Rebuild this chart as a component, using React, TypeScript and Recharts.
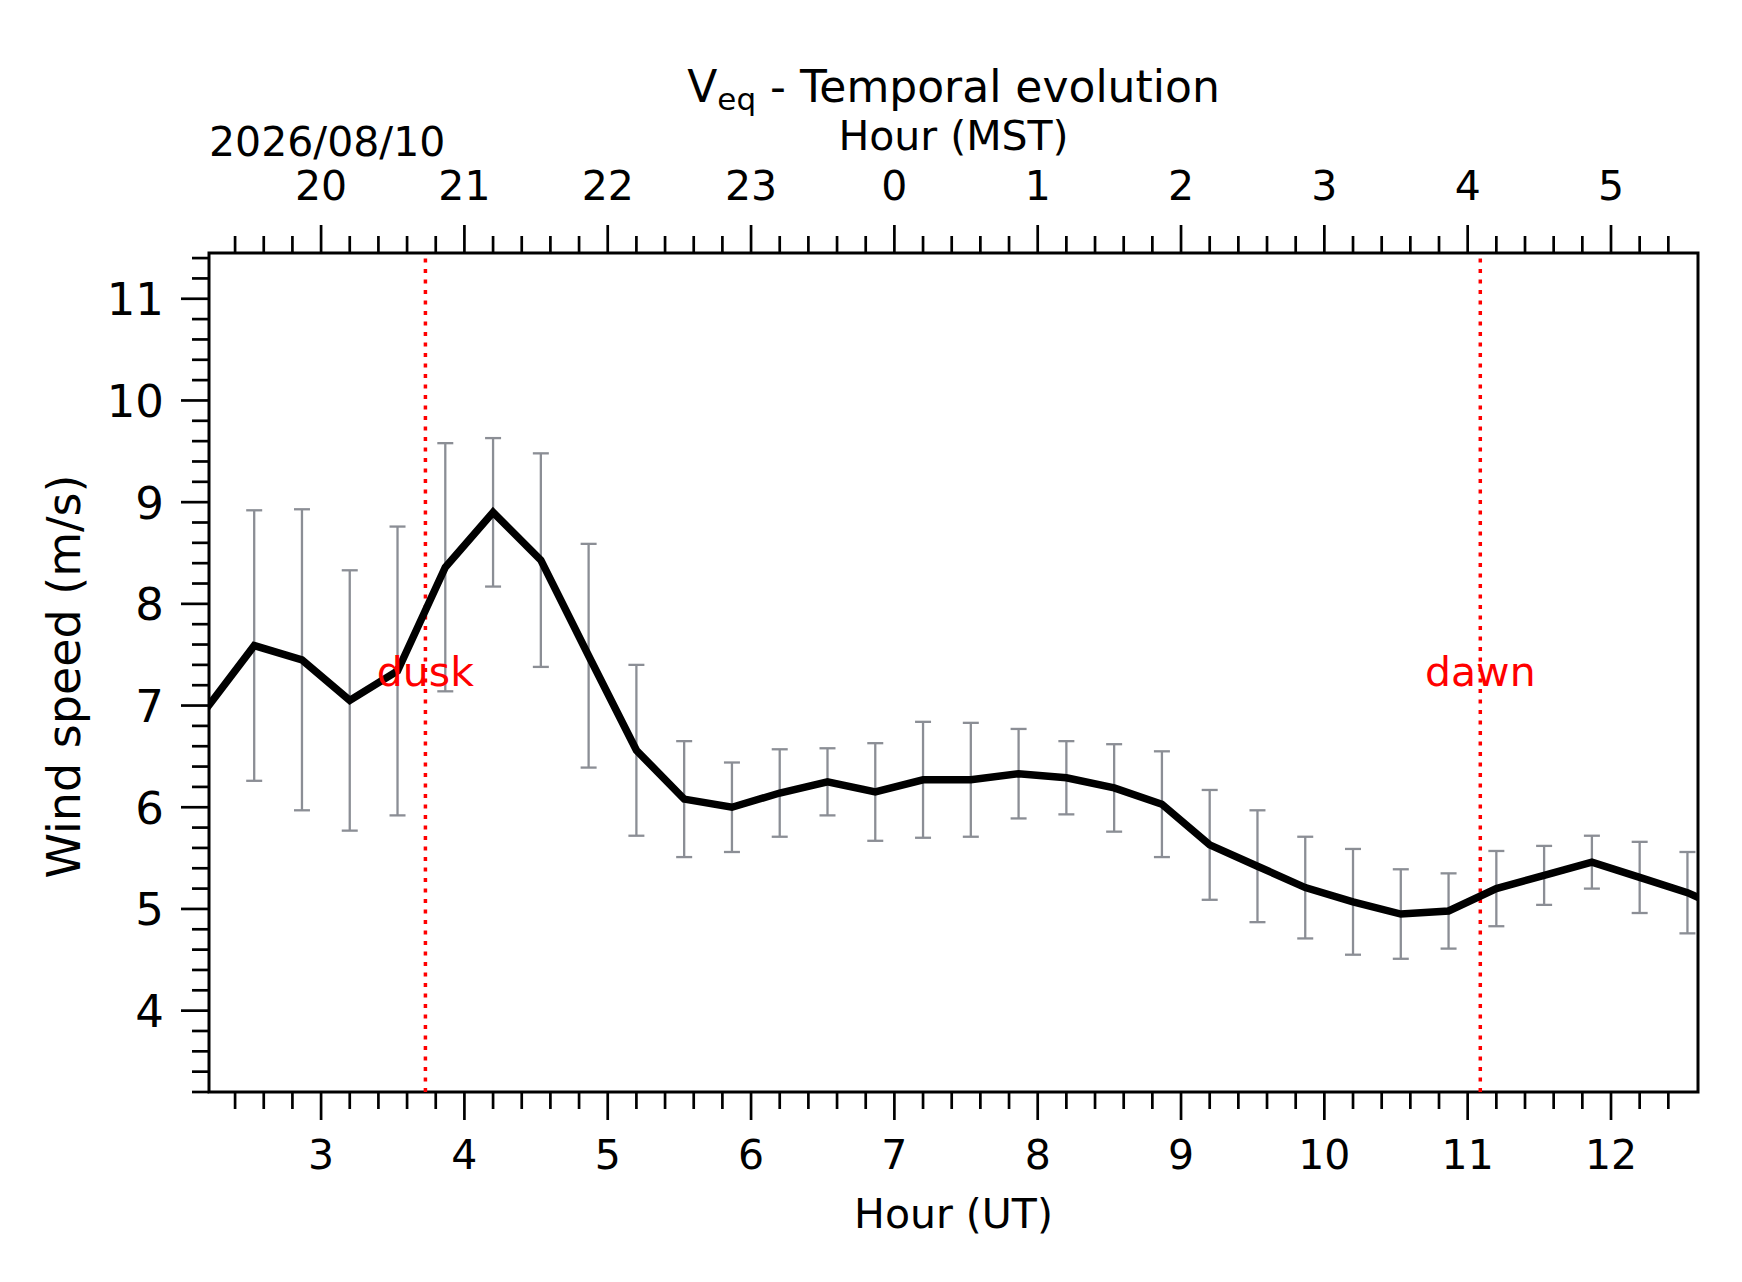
import React from "react";
import {
  LineChart,
  Line,
  XAxis,
  YAxis,
  ErrorBar,
  ReferenceLine,
  ReferenceDot,
  ReferenceArea,
  Label,
} from "recharts";

const FONT = "DejaVu Sans, Verdana, sans-serif";

// 20-minute bins (UT)
const TIMES_UT = [
  "02:12", "02:32", "02:52", "03:12", "03:32", "03:52", "04:12", "04:32", "04:52",
  "05:12", "05:32", "05:52", "06:12", "06:32", "06:52", "07:12", "07:32", "07:52",
  "08:12", "08:32", "08:52", "09:12", "09:32", "09:52", "10:12", "10:32", "10:52",
  "11:12", "11:32", "11:52", "12:12", "12:32", "12:52",
];
const SPEED = [
  6.97, 7.59, 7.45, 7.05, 7.34, 8.36, 8.9, 8.43, 7.49,
  6.56, 6.08, 6.0, 6.14, 6.25, 6.15, 6.27, 6.27, 6.33,
  6.29, 6.19, 6.03, 5.63, 5.42, 5.21, 5.07, 4.95, 4.98,
  5.2, 5.33, 5.46, 5.31, 5.16, 4.95,
];
const SPEED_ERR = [
  1.43, 1.33, 1.48, 1.28, 1.42, 1.22, 0.73, 1.05, 1.1,
  0.84, 0.57, 0.44, 0.43, 0.33, 0.48, 0.57, 0.56, 0.44,
  0.36, 0.43, 0.52, 0.54, 0.55, 0.5, 0.52, 0.44, 0.37,
  0.37, 0.29, 0.26, 0.35, 0.4, 0.4,
];

const UT_TICKS = [3, 4, 5, 6, 7, 8, 9, 10, 11, 12];
const MST_LABELS = ["20", "21", "22", "23", "0", "1", "2", "3", "4", "5"];
const SPEED_TICKS = [4, 5, 6, 7, 8, 9, 10, 11];

const X_DOMAIN: [number, number] = [2.218, 12.607];
const Y_DOMAIN: [number, number] = [3.2, 11.45];
const DUSK_UT = 3.728;
const DAWN_UT = 11.088;
const TWILIGHT_LABEL_Y = 7.34;
const DATE_LABEL = "2026/08/10";

const toHours = (hhmm: string) => {
  const [h, m] = hhmm.split(":").map(Number);
  return h + m / 60;
};

const data = TIMES_UT.map((t, i) => ({ ut: toHours(t), speed: SPEED[i], err: SPEED_ERR[i] }));
// error bars are not clipped by recharts, so only keep bins inside the x range
const barData = data.filter((d) => d.ut >= X_DOMAIN[0] && d.ut <= X_DOMAIN[1]);

// minor tick positions, every 0.2
const steps = (from: number, to: number, step: number) => {
  const out: number[] = [];
  for (let i = 0; from + i * step <= to + 1e-9; i++) out.push(+(from + i * step).toFixed(2));
  return out;
};
const X_MINOR = steps(2.4, 12.4, 0.2);
const Y_MINOR = steps(3.2, 11.4, 0.2);

const isMajor = (v: number) => Math.abs(v - Math.round(v)) < 1e-6;

const TICK_W = 2.7;
const MAJOR_LEN = 28;
const MINOR_LEN = 17;

function BottomTick({ x, y, payload }: any) {
  const v = payload.value;
  const major = isMajor(v) && UT_TICKS.includes(Math.round(v));
  return (
    <g>
      <line x1={x} x2={x} y1={y} y2={y + (major ? MAJOR_LEN : MINOR_LEN)} stroke="#000" strokeWidth={TICK_W} />
      {major && (
        <text x={x} y={y + 77} textAnchor="middle" fontSize={41} fontFamily={FONT} fill="#000">
          {Math.round(v)}
        </text>
      )}
    </g>
  );
}

function TopTick({ x, y, payload }: any) {
  const v = payload.value;
  const idx = isMajor(v) ? UT_TICKS.indexOf(Math.round(v)) : -1;
  const major = idx >= 0;
  return (
    <g>
      <line x1={x} x2={x} y1={y} y2={y - (major ? MAJOR_LEN : MINOR_LEN)} stroke="#000" strokeWidth={TICK_W} />
      {major && (
        <text x={x} y={y - 53} textAnchor="middle" fontSize={41} fontFamily={FONT} fill="#000">
          {MST_LABELS[idx]}
        </text>
      )}
    </g>
  );
}

function LeftTick({ x, y, payload }: any) {
  const v = payload.value;
  const major = isMajor(v) && SPEED_TICKS.includes(Math.round(v));
  return (
    <g>
      <line x1={x - (major ? MAJOR_LEN : MINOR_LEN)} x2={x} y1={y} y2={y} stroke="#000" strokeWidth={TICK_W} />
      {major && (
        <text x={x - 45} y={y + 16.5} textAnchor="end" fontSize={45} fontFamily={FONT} fill="#000">
          {Math.round(v)}
        </text>
      )}
    </g>
  );
}

export default function App() {
  return (
    <div style={{ position: "absolute", left: 0, top: 0, width: 1742, height: 1282, background: "#fff" }}>
      <LineChart
        width={1742}
        height={1282}
        data={data}
        margin={{ top: 0, right: 44, bottom: 0, left: 0 }}
        style={{ fontFamily: FONT }}
      >
        <XAxis
          dataKey="ut"
          type="number"
          domain={X_DOMAIN}
          allowDataOverflow
          ticks={X_MINOR}
          interval={0}
          height={190}
          tickSize={0}
          tickMargin={0}
          tickLine={false}
          axisLine={false}
          tick={(p: any) => <BottomTick {...p} />}
        >
          <Label
            content={({ viewBox }: any) => (
              <text
                x={viewBox.x + viewBox.width / 2}
                y={viewBox.y + 136}
                textAnchor="middle"
                fontSize={41}
                fontFamily={FONT}
                fill="#000"
              >
                Hour (UT)
              </text>
            )}
          />
        </XAxis>
        <XAxis
          xAxisId="mst"
          orientation="top"
          dataKey="ut"
          type="number"
          domain={X_DOMAIN}
          allowDataOverflow
          ticks={X_MINOR}
          interval={0}
          height={253}
          tickSize={0}
          tickMargin={0}
          tickLine={false}
          axisLine={false}
          tick={(p: any) => <TopTick {...p} />}
        >
          <Label
            content={({ viewBox }: any) => {
              const cx = viewBox.x + viewBox.width / 2;
              return (
                <g fontFamily={FONT} fill="#000">
                  <text x={cx} y={102} textAnchor="middle" fontSize={44}>
                    <tspan>V</tspan>
                    <tspan fontSize={31} dy={8}>eq</tspan>
                    <tspan dy={-8}> - Temporal evolution</tspan>
                  </text>
                  <text x={cx} y={150} textAnchor="middle" fontSize={41}>
                    Hour (MST)
                  </text>
                  <text x={viewBox.x} y={156} textAnchor="start" fontSize={41}>
                    {DATE_LABEL}
                  </text>
                </g>
              );
            }}
          />
        </XAxis>
        <YAxis
          type="number"
          domain={Y_DOMAIN}
          allowDataOverflow
          ticks={Y_MINOR}
          interval={0}
          width={209}
          tickSize={0}
          tickMargin={0}
          tickLine={false}
          axisLine={false}
          tick={(p: any) => <LeftTick {...p} />}
        >
          <Label
            content={({ viewBox }: any) => {
              const cy = viewBox.y + viewBox.height / 2 + 4;
              return (
                <text
                  x={80}
                  y={cy}
                  transform={`rotate(-90, 80, ${cy})`}
                  textAnchor="middle"
                  fontSize={46}
                  fontFamily={FONT}
                  fill="#000"
                >
                  Wind speed (m/s)
                </text>
              );
            }}
          />
        </YAxis>

        <ReferenceLine x={DUSK_UT} stroke="#ff0000" strokeWidth={3.5} strokeDasharray="4 6.5" />
        <ReferenceLine x={DAWN_UT} stroke="#ff0000" strokeWidth={3.5} strokeDasharray="4 6.5" />

        <Line
          xAxisId="mst"
          data={barData}
          dataKey="speed"
          stroke="none"
          dot={false}
          activeDot={false}
          isAnimationActive={false}
        >
          <ErrorBar dataKey="err" direction="y" width={8} stroke="#8b8e95" strokeWidth={2.3} isAnimationActive={false} />
        </Line>
        <Line
          dataKey="speed"
          stroke="#000"
          strokeWidth={7.5}
          strokeLinejoin="miter"
          dot={false}
          activeDot={false}
          isAnimationActive={false}
        />

        <ReferenceDot
          x={DUSK_UT}
          y={TWILIGHT_LABEL_Y}
          r={0}
          fill="none"
          stroke="none"
          label={{ value: "dusk", position: "center", fill: "#ff0000", fontSize: 41, fontFamily: FONT }}
        />
        <ReferenceDot
          x={DAWN_UT}
          y={TWILIGHT_LABEL_Y}
          r={0}
          fill="none"
          stroke="none"
          label={{ value: "dawn", position: "center", fill: "#ff0000", fontSize: 41, fontFamily: FONT }}
        />

        <ReferenceArea
          x1={X_DOMAIN[0]}
          x2={X_DOMAIN[1]}
          y1={Y_DOMAIN[0]}
          y2={Y_DOMAIN[1]}
          fill="none"
          stroke="#000"
          strokeWidth={3}
          ifOverflow="visible"
        />
      </LineChart>
    </div>
  );
}
